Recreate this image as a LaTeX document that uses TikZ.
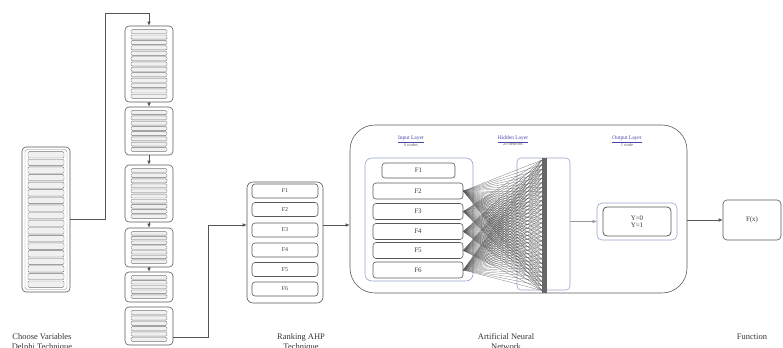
\documentclass[tikz,border=0pt]{standalone}
\usepackage{fontspec}
\setmainfont{Liberation Serif}
\usetikzlibrary{arrows.meta}

% a column of thin rounded bars: left x, right x, top y, bottom y, count
\newcommand\stripebank[5]{%
  \pgfmathsetmacro\sbpitch{(#4-#3)/#5}%
  \foreach \k in {1,...,#5}{%
    \pgfmathsetmacro\sbtop{#3+(\k-1)*\sbpitch+0.6}%
    \pgfmathsetmacro\sbbot{#3+\k*\sbpitch-0.6}%
    \draw[stripe] (#1,\sbtop) rectangle (#2,\sbbot);
  }%
}

\definecolor{wirecol}{RGB}{85,85,85}
\definecolor{labblue}{RGB}{70,70,170}
\definecolor{layerline}{RGB}{150,162,205}

\tikzset{
  frame/.style={draw=black!65, line width=0.6bp, rounded corners=4bp, inner sep=0pt},
  innerframe/.style={draw=black!45, line width=0.4bp, rounded corners=2.5bp},
  stripe/.style={draw=black!55, fill=black!6, line width=0.4bp, rounded corners=1.2bp},
  fbox/.style={frame, rounded corners=3bp, font=\fontsize{6}{6}\selectfont, text=black!75},
  layerbox/.style={draw=layerline, line width=0.6bp, rounded corners=7bp, inner sep=0pt},
  wire/.style={draw=wirecol, line width=0.6bp},
  tip/.style={-{Latex[length=4bp,width=3.5bp]}},
  fan/.style={draw=black!65, line width=0.2bp},
  stagecap/.style={font=\fontsize{8.5}{9.5}\selectfont, text=black!80, align=center, anchor=north},
  layerlab/.style={font=\fontsize{5.5}{5.5}\selectfont, text=labblue, align=center},
  layersub/.style={font=\fontsize{4.5}{4.5}\selectfont, text=black!60, align=center}
}

\begin{document}
\begin{tikzpicture}[x=1bp, y=-1bp]
\useasboundingbox (0,0) rectangle (783,347);

% ---- variable selection column ----
\node[frame, minimum width=48bp, minimum height=145bp] (sel) at (46,219.5) {};
\draw[innerframe] (25,149.5) rectangle (67,289.5);
\stripebank{28}{64}{151}{288}{18}

% ---- stacked groups ----
\node[frame, minimum width=48bp, minimum height=76bp] (s1) at (149,64) {};
\node[frame, minimum width=48bp, minimum height=48bp] (s2) at (149,131) {};
\node[frame, minimum width=48bp, minimum height=57bp] (s3) at (149,193.5) {};
\node[frame, minimum width=48bp, minimum height=39bp] (s4) at (149,247.5) {};
\node[frame, minimum width=48bp, minimum height=30bp] (s5) at (149,287) {};
\node[frame, minimum width=48bp, minimum height=38bp] (s6) at (149,326) {};
\stripebank{131}{167}{29}{99}{13}
\stripebank{131}{167}{110}{152}{8}
\stripebank{131}{167}{168}{219}{10}
\stripebank{131}{167}{231}{264}{7}
\stripebank{131}{167}{275}{299}{5}
\stripebank{131}{167}{310}{342}{6}

\coordinate (up) at (105,13);
\draw[wire, tip] (sel.east) -| (up) -| (s1.north);
\draw[wire, tip] (s1.south) -- (s2.north);
\draw[wire, tip] (s2.south) -- (s3.north);
\draw[wire, tip] (s3.south) -- (s4.north);
\draw[wire, tip] (s4.south) -- (s5.north);

% ---- ranking ----
\node[frame, rounded corners=6bp, minimum width=76bp, minimum height=121bp] (rank) at (285,242.5) {};
\foreach \i/\y in {1/191, 2/209.5, 3/230, 4/250, 5/269.5, 6/289}
  \node[fbox, minimum width=66bp, minimum height=14bp] (r\i) at (285,\y) {F\i};

\coordinate (mid) at (208,225);
\draw[wire] ([yshift=8bp]s6.south east) -| (mid);
\draw[wire, tip] (mid) -- (rank.west |- mid);

% ---- neural network ----
\node[frame, rounded corners=25bp, minimum width=337bp, minimum height=168bp] (ann) at (518.5,209) {};
\draw[wire, tip] (rank.east |- mid) -- (ann.west |- mid);

\node[layerbox, minimum width=108bp, minimum height=123bp] (inl) at (419,219.5) {};
\node[fbox, font=\fontsize{7}{7}\selectfont, minimum width=73bp, minimum height=15bp] (i1) at (418.5,170.5) {F1};
\foreach \i/\y in {2/191, 3/211.5, 4/231.5, 5/250.5, 6/270}
  \node[fbox, font=\fontsize{7}{7}\selectfont, minimum width=90bp, minimum height=16bp] (i\i) at (418,\y) {F\i};

\node[layerbox, rounded corners=4bp, minimum width=53bp, minimum height=132bp] (hid) at (543.5,224) {};

% hidden neurons along one column
\foreach \j in {0,...,29}
  \coordinate (n\j) at (542,{160+\j*4.5});
\foreach \i in {2,...,6}
  \foreach \j in {0,...,29}
    \draw[fan] (i\i.east) -- (n\j);
\node[fill=black!60, minimum width=5bp, minimum height=135bp, inner sep=0pt] (bar) at (544.5,225.5) {};

\node[layerbox, rounded corners=5bp, minimum width=80bp, minimum height=37bp] (outo) at (637,221.5) {};
\node[frame, line width=0.8bp, minimum width=68bp, minimum height=29bp, align=center,
      font=\fontsize{7}{7.5}\selectfont, text=black!80] (outb) at (637,221.5) {Y=0\\Y=1};
\draw[draw=black!40, line width=0.5bp, tip] (hid.east |- outo) -- (outo.west);

\node[layerlab] (labin) at (411,139) {\underline{Input Layer}};
\node[layersub] at (411,144.5) {6 nodes};
\node[layerlab] (labhid) at (513,139) {\underline{Hidden Layer}};
\node[layersub] at (513,144.5) {20 neurons};
\node[layerlab] (labout) at (627,139) {\underline{Output Layer}};
\node[layersub] at (627,144.5) {1 node};

% ---- function ----
\node[frame, minimum width=58bp, minimum height=40bp, font=\fontsize{7}{7}\selectfont, text=black!80] (fx) at (752,220) {F(x)};
\draw[wire, tip] (ann.east |- fx) -- (fx.west);

% ---- stage captions ----
\node[stagecap] (c1) at (42,330.5) {Choose Variables\\Delphi Technique};
\node[stagecap] (c2) at (301,330.5) {Ranking AHP\\Technique};
\node[stagecap] (c3) at (506,330.5) {Artificial Neural\\Network};
\node[stagecap] (c4) at (752,330.5) {Function};
\end{tikzpicture}
\end{document}
